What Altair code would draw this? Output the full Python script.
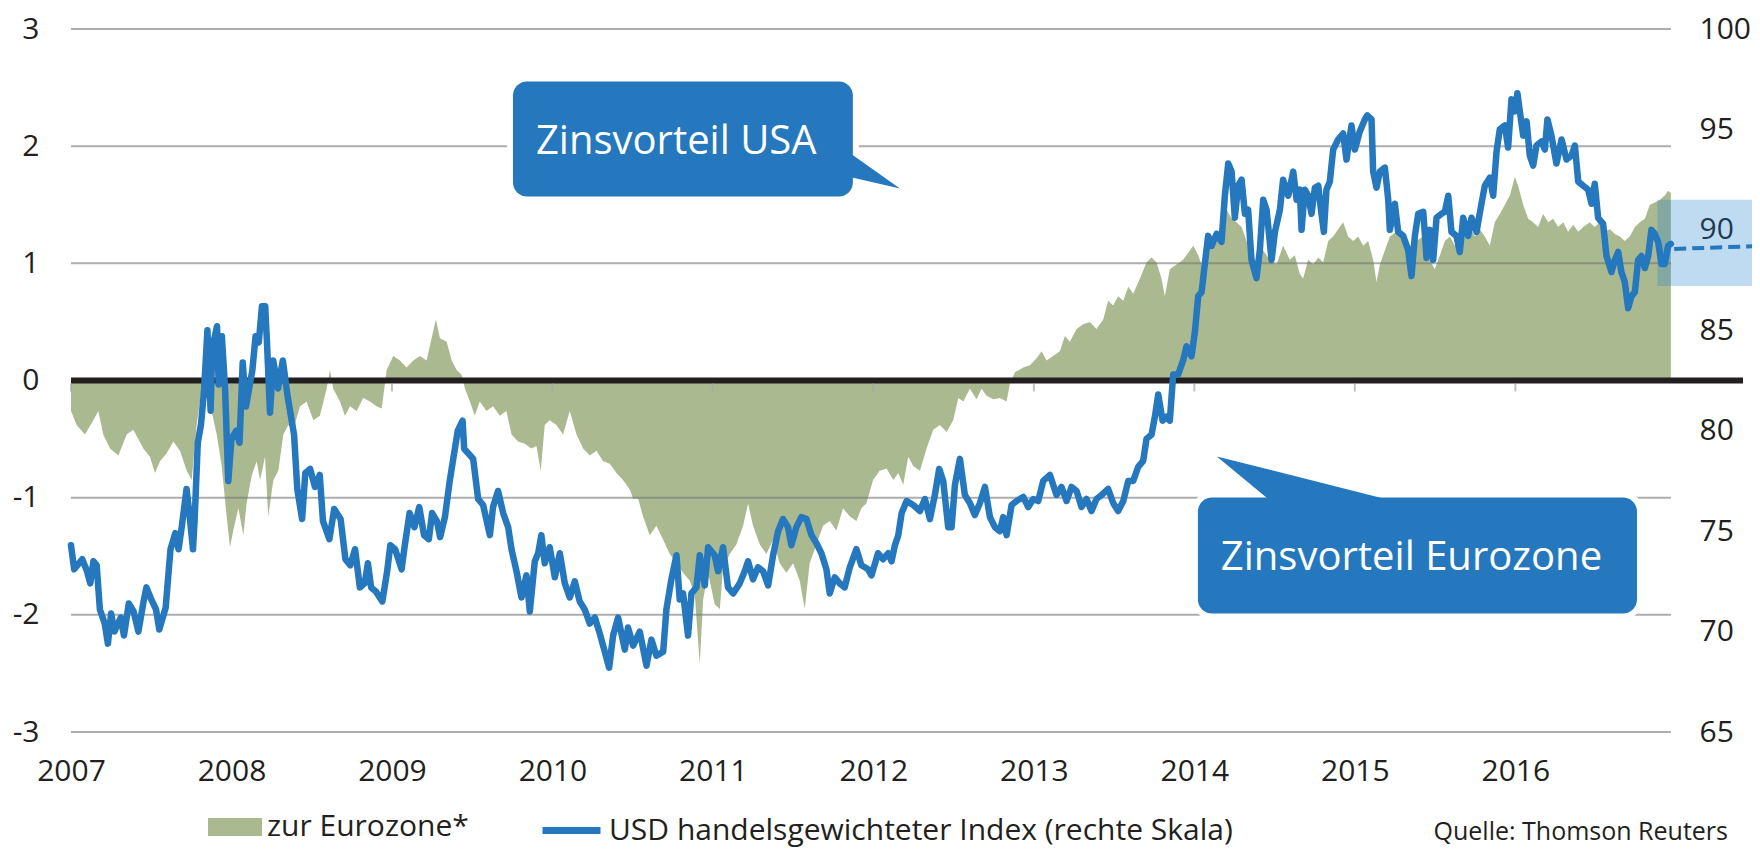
import altair as alt
import pandas as pd

FONT = "Open Sans"
TXT = "#231f20"
GREEN = "#aab98f"
BLUE = "#2577be"

years = list(range(2007, 2017))
left_ticks = [-3, -2, -1, 0, 1, 2, 3]
right_ticks = [65, 70, 75, 80, 85, 90, 95, 100]
grid_vals = [-3, -2, -1, 1, 2, 3]

# Zinsdifferenz USA - Eurozone (linke Skala)
green_t = [
    2007.000, 2007.035, 2007.087, 2007.139, 2007.170, 2007.201, 2007.243, 2007.295, 2007.347, 2007.388,
    2007.451, 2007.492, 2007.523, 2007.555, 2007.596, 2007.638, 2007.679, 2007.721, 2007.752, 2007.783,
    2007.814, 2007.845, 2007.876, 2007.908, 2007.939, 2007.970, 2007.991,
    2008.011, 2008.043, 2008.074, 2008.094, 2008.126, 2008.157, 2008.178, 2008.209, 2008.229, 2008.261,
    2008.292, 2008.323, 2008.354, 2008.385, 2008.427, 2008.468, 2008.510, 2008.551, 2008.593, 2008.614,
    2008.634, 2008.676, 2008.707, 2008.738, 2008.780, 2008.821, 2008.863, 2008.904, 2008.936, 2008.967,
    2009.008, 2009.050, 2009.091, 2009.133, 2009.174, 2009.216, 2009.247, 2009.274, 2009.299, 2009.341,
    2009.372, 2009.403, 2009.434, 2009.455, 2009.486, 2009.516, 2009.547, 2009.589, 2009.630, 2009.672,
    2009.713, 2009.745, 2009.786, 2009.828, 2009.869, 2009.900, 2009.927, 2009.952, 2009.983,
    2010.025, 2010.066, 2010.108, 2010.150, 2010.191, 2010.233, 2010.274, 2010.316, 2010.357, 2010.399,
    2010.440, 2010.482, 2010.503, 2010.534, 2010.565, 2010.606, 2010.648, 2010.690, 2010.731, 2010.773,
    2010.814, 2010.856, 2010.887, 2010.918, 2010.939, 2010.970,
    2011.011, 2011.043, 2011.063, 2011.105, 2011.146, 2011.188, 2011.219, 2011.250, 2011.292, 2011.333,
    2011.375, 2011.416, 2011.458, 2011.500, 2011.541, 2011.572, 2011.603, 2011.645, 2011.686, 2011.728,
    2011.769, 2011.811, 2011.853, 2011.894, 2011.925, 2011.956, 2011.998,
    2012.039, 2012.082, 2012.124, 2012.155, 2012.186, 2012.217, 2012.248, 2012.290, 2012.331, 2012.373,
    2012.414, 2012.456, 2012.497, 2012.529, 2012.560, 2012.601, 2012.643, 2012.674, 2012.705, 2012.747,
    2012.788, 2012.830, 2012.850, 2012.882, 2012.934, 2012.975,
    2013.017, 2013.048, 2013.079, 2013.120, 2013.162, 2013.193, 2013.224, 2013.266, 2013.307, 2013.349,
    2013.390, 2013.432, 2013.463, 2013.494, 2013.525, 2013.557, 2013.588, 2013.619, 2013.661, 2013.702,
    2013.733, 2013.764, 2013.795, 2013.816, 2013.847, 2013.889, 2013.930, 2013.962, 2013.993,
    2014.024, 2014.055, 2014.086, 2014.117, 2014.159, 2014.200, 2014.232, 2014.263, 2014.294, 2014.325,
    2014.356, 2014.387, 2014.429, 2014.470, 2014.512, 2014.553, 2014.595, 2014.626, 2014.657, 2014.678,
    2014.709, 2014.740, 2014.772, 2014.803, 2014.834, 2014.865, 2014.896, 2014.927, 2014.958, 2014.990,
    2015.021, 2015.052, 2015.083, 2015.114, 2015.135, 2015.156, 2015.187, 2015.218, 2015.260, 2015.301,
    2015.343, 2015.384, 2015.426, 2015.467, 2015.498, 2015.530, 2015.561, 2015.592, 2015.623, 2015.654,
    2015.685, 2015.717, 2015.748, 2015.779, 2015.810, 2015.841, 2015.872, 2015.903, 2015.935, 2015.966,
    2015.997,
    2016.018, 2016.049, 2016.080, 2016.111, 2016.142, 2016.173, 2016.205, 2016.236, 2016.267, 2016.298,
    2016.329, 2016.360, 2016.392, 2016.423, 2016.464, 2016.495, 2016.526, 2016.558, 2016.589, 2016.620,
    2016.651, 2016.682, 2016.713, 2016.745, 2016.776, 2016.807, 2016.838, 2016.869, 2016.900, 2016.931,
    2016.952, 2016.969,
]
green_v = [
    -0.26, -0.38, -0.46, -0.34, -0.26, -0.46, -0.58, -0.64, -0.46, -0.42,
    -0.58, -0.65, -0.79, -0.69, -0.62, -0.52, -0.60, -0.77, -0.85, -0.38,
    -0.07, -0.15, -0.26, -0.46, -0.73, -1.16, -1.42,
    -1.28, -1.09, -1.32, -1.05, -0.81, -0.69, -0.85, -0.65, -1.16, -0.85,
    -0.77, -0.46, -0.38, -0.42, -0.22, -0.18, -0.34, -0.30, -0.07, 0.09,
    -0.07, -0.18, -0.30, -0.22, -0.26, -0.15, -0.18, -0.22, -0.24, 0.09,
    0.21, 0.17, 0.11, 0.17, 0.21, 0.17, 0.36, 0.52, 0.36, 0.33,
    0.17, 0.09, 0.05, -0.07, -0.18, -0.30, -0.18, -0.26, -0.22, -0.30,
    -0.26, -0.46, -0.52, -0.54, -0.58, -0.56, -0.77, -0.38, -0.34,
    -0.38, -0.46, -0.26, -0.46, -0.58, -0.64, -0.60, -0.69, -0.71, -0.79,
    -0.85, -0.93, -1.01, -1.01, -1.16, -1.32, -1.24, -1.36, -1.48, -1.56,
    -1.64, -1.71, -1.83, -2.42, -1.87, -1.64,
    -1.91, -1.95, -1.60, -1.48, -1.40, -1.24, -1.05, -1.24, -1.40, -1.48,
    -1.36, -1.56, -1.64, -1.56, -1.71, -1.95, -1.56, -1.40, -1.24, -1.20,
    -1.28, -1.09, -1.16, -1.20, -1.09, -1.05, -0.85,
    -0.77, -0.75, -0.85, -0.79, -0.89, -0.65, -0.73, -0.77, -0.58, -0.42,
    -0.38, -0.44, -0.34, -0.15, -0.18, -0.07, -0.16, -0.07, -0.13, -0.16,
    -0.15, -0.18, -0.03, 0.07, 0.11, 0.13,
    0.19, 0.25, 0.17, 0.21, 0.25, 0.38, 0.33, 0.44, 0.48, 0.50,
    0.44, 0.52, 0.68, 0.64, 0.72, 0.68, 0.80, 0.74, 0.87, 1.01,
    1.05, 1.01, 0.87, 0.72, 0.95, 0.99, 1.03, 1.09, 1.15,
    1.07, 0.95, 1.19, 1.23, 1.19, 1.46, 1.38, 1.35, 1.31, 1.19,
    1.11, 0.99, 1.11, 1.03, 0.99, 1.15, 1.03, 1.07, 0.91, 0.87,
    1.03, 0.99, 1.05, 1.01, 1.19, 1.23, 1.29, 1.35, 1.23, 1.19,
    1.23, 1.15, 1.19, 1.03, 0.84, 0.99, 1.11, 1.23, 1.27, 1.19,
    1.15, 1.19, 1.23, 1.03, 0.95, 1.07, 1.19, 1.23, 1.15, 1.23,
    1.27, 1.31, 1.23, 1.29, 1.23, 1.15, 1.35, 1.42, 1.50, 1.58,
    1.74,
    1.66, 1.50, 1.38, 1.35, 1.31, 1.42, 1.35, 1.38, 1.31, 1.35,
    1.27, 1.33, 1.27, 1.31, 1.35, 1.31, 1.35, 1.27, 1.29, 1.25,
    1.23, 1.19, 1.23, 1.31, 1.35, 1.38, 1.50, 1.52, 1.54, 1.58,
    1.62, 1.60,
]

# USD handelsgewichteter Index (rechte Skala)
blue_t = [
    2007.00, 2007.02, 2007.07, 2007.10, 2007.12, 2007.14, 2007.16, 2007.18, 2007.21, 2007.23,
    2007.25, 2007.27, 2007.31, 2007.33, 2007.36, 2007.39, 2007.42, 2007.45, 2007.47, 2007.50,
    2007.53, 2007.55, 2007.59, 2007.62, 2007.65, 2007.67, 2007.69, 2007.72, 2007.74, 2007.76,
    2007.77, 2007.79, 2007.81, 2007.83, 2007.85, 2007.87, 2007.88, 2007.91, 2007.92, 2007.94,
    2007.96, 2007.98,
    2008.00, 2008.03, 2008.05, 2008.07, 2008.09, 2008.13, 2008.15, 2008.17, 2008.19, 2008.21,
    2008.22, 2008.24, 2008.26, 2008.29, 2008.32, 2008.35, 2008.39, 2008.41, 2008.44, 2008.46,
    2008.49, 2008.52, 2008.55, 2008.57, 2008.61, 2008.64, 2008.68, 2008.71, 2008.74, 2008.77,
    2008.80, 2008.83, 2008.85, 2008.87, 2008.90, 2008.94, 2008.97, 2008.99,
    2009.02, 2009.06, 2009.08, 2009.11, 2009.14, 2009.17, 2009.20, 2009.23, 2009.25, 2009.28,
    2009.30, 2009.33, 2009.36, 2009.38, 2009.41, 2009.44, 2009.45, 2009.506, 2009.537, 2009.568,
    2009.610, 2009.630, 2009.661, 2009.693, 2009.724, 2009.745, 2009.776, 2009.807, 2009.838, 2009.859,
    2009.890, 2009.911, 2009.931, 2009.952, 2009.983,
    2010.015, 2010.046, 2010.077, 2010.108, 2010.139, 2010.170, 2010.201, 2010.233, 2010.264, 2010.295,
    2010.326, 2010.353, 2010.378, 2010.409, 2010.451, 2010.471, 2010.503, 2010.544, 2010.586, 2010.617,
    2010.648, 2010.690, 2010.710, 2010.741, 2010.773, 2010.793, 2010.814, 2010.845, 2010.866, 2010.897,
    2010.918, 2010.949, 2010.970,
    2011.011, 2011.032, 2011.063, 2011.094, 2011.126, 2011.167, 2011.198, 2011.219, 2011.250, 2011.281,
    2011.313, 2011.344, 2011.375, 2011.406, 2011.437, 2011.468, 2011.489, 2011.520, 2011.551, 2011.583,
    2011.614, 2011.645, 2011.676, 2011.707, 2011.728, 2011.759, 2011.790, 2011.821, 2011.853, 2011.894,
    2011.925, 2011.967, 2011.988,
    2012.029, 2012.060, 2012.092, 2012.113, 2012.134, 2012.155, 2012.176, 2012.207, 2012.248, 2012.290,
    2012.321, 2012.352, 2012.383, 2012.410, 2012.435, 2012.466, 2012.487, 2012.508, 2012.539, 2012.570,
    2012.601, 2012.632, 2012.664, 2012.695, 2012.726, 2012.757, 2012.788, 2012.809, 2012.830, 2012.861,
    2012.892, 2012.934, 2012.965, 2012.996,
    2013.027, 2013.058, 2013.100, 2013.141, 2013.172, 2013.204, 2013.235, 2013.266, 2013.297, 2013.328,
    2013.359, 2013.390, 2013.422, 2013.463, 2013.494, 2013.525, 2013.557, 2013.588, 2013.619, 2013.650,
    2013.681, 2013.702, 2013.733, 2013.754, 2013.775, 2013.802, 2013.827, 2013.847, 2013.868, 2013.899,
    2013.930, 2013.951, 2013.982,
    2014.003, 2014.024, 2014.045, 2014.065, 2014.086, 2014.107, 2014.138, 2014.169, 2014.190, 2014.211,
    2014.232, 2014.252, 2014.273, 2014.294, 2014.315, 2014.335, 2014.356, 2014.387, 2014.408, 2014.429,
    2014.450, 2014.481, 2014.502, 2014.533, 2014.553, 2014.585, 2014.616, 2014.637, 2014.657, 2014.668,
    2014.688, 2014.709, 2014.730, 2014.751, 2014.772, 2014.792, 2014.807, 2014.823, 2014.844, 2014.865,
    2014.896, 2014.927, 2014.948, 2014.979,
    2015.000, 2015.031, 2015.062, 2015.077, 2015.104, 2015.114, 2015.135, 2015.156, 2015.187, 2015.208,
    2015.218, 2015.249, 2015.270, 2015.301, 2015.332, 2015.353, 2015.374, 2015.395, 2015.426, 2015.447,
    2015.467, 2015.488, 2015.509, 2015.540, 2015.561, 2015.582, 2015.602, 2015.633, 2015.654, 2015.675,
    2015.706, 2015.727, 2015.758, 2015.789, 2015.810, 2015.841, 2015.862, 2015.883, 2015.903, 2015.935,
    2015.955, 2015.976, 2015.997,
    2016.013, 2016.028, 2016.049, 2016.070, 2016.090, 2016.111, 2016.132, 2016.163, 2016.184, 2016.200,
    2016.225, 2016.256, 2016.288, 2016.319, 2016.350, 2016.371, 2016.392, 2016.423, 2016.454, 2016.475,
    2016.495, 2016.516, 2016.547, 2016.568, 2016.599, 2016.620, 2016.641, 2016.661, 2016.682, 2016.703,
    2016.724, 2016.745, 2016.765, 2016.786, 2016.807, 2016.828, 2016.848, 2016.869, 2016.890, 2016.911,
    2016.931, 2016.952, 2016.969,
]
blue_v = [
    74.3, 73.1, 73.6, 73.0, 72.4, 73.5, 73.3, 71.1, 70.4, 69.4,
    70.9, 70.0, 70.7, 69.8, 71.4, 71.0, 70.0, 71.4, 72.2, 71.6,
    71.1, 70.1, 71.2, 74.1, 74.9, 74.1, 75.2, 77.1, 75.7, 74.1,
    75.5, 79.4, 80.3, 82.1, 85.0, 81.0, 84.1, 85.2, 82.3, 84.7,
    82.1, 77.5,
    79.6, 80.0, 79.4, 83.4, 81.2, 83.0, 84.7, 84.4, 86.2, 86.2,
    84.6, 80.9, 83.5, 82.1, 83.5, 81.7, 79.8, 77.1, 75.6, 77.9,
    78.1, 77.2, 77.8, 75.5, 74.6, 76.1, 75.6, 73.6, 73.3, 74.1,
    72.2, 72.4, 73.4, 72.2, 72.0, 71.5, 73.0, 74.3,
    74.1, 73.1, 74.3, 75.9, 75.2, 76.2, 74.8, 74.6, 75.9, 75.5,
    74.7, 75.7, 77.5, 78.5, 80.0, 80.5, 79.1, 78.6, 76.6, 76.3,
    74.8, 76.2, 77.0, 75.9, 75.2, 74.1, 73.0, 71.7, 72.8, 71.0,
    73.5, 73.9, 74.8, 73.4, 74.2,
    72.7, 73.9, 72.4, 71.7, 72.5, 71.5, 71.1, 70.4, 70.7, 69.9,
    69.0, 68.2, 69.8, 70.7, 69.1, 70.2, 69.3, 70.0, 68.3, 69.6,
    68.8, 69.0, 71.1, 72.6, 73.8, 71.6, 71.9, 69.8, 71.9, 72.2,
    73.8, 72.3, 74.2,
    73.8, 73.0, 74.2, 72.2, 71.9, 72.4, 73.0, 73.5, 72.6, 73.2,
    73.0, 72.3, 73.8, 75.0, 75.6, 75.2, 74.3, 75.2, 75.7, 75.6,
    74.8, 74.4, 73.9, 73.1, 71.9, 72.7, 72.4, 72.2, 73.2, 74.1,
    73.3, 73.1, 72.8,
    73.9, 73.6, 73.9, 73.5, 74.3, 74.8, 75.9, 76.5, 76.3, 76.0,
    76.6, 75.6, 76.8, 78.1, 77.5, 75.2, 75.2, 77.3, 78.6, 76.8,
    76.4, 75.8, 76.4, 77.2, 75.7, 75.2, 75.0, 75.7, 74.8, 76.3,
    76.5, 76.7, 76.2, 76.6,
    76.5, 77.5, 77.8, 76.8, 77.2, 76.5, 77.2, 77.0, 76.2, 76.6,
    76.0, 76.6, 76.8, 77.1, 76.4, 76.0, 76.5, 77.5, 77.5, 78.2,
    78.5, 79.6, 79.8, 80.7, 81.8, 80.5, 80.7, 80.5, 82.8, 82.8,
    83.5, 84.2, 83.7,
    84.9, 86.7, 86.9, 88.3, 89.7, 89.2, 89.8, 89.4, 91.7, 93.3,
    92.9, 90.6, 92.2, 92.5, 90.8, 91.0, 88.5, 87.6, 89.0, 91.5,
    91.0, 88.5, 89.9, 91.0, 92.5, 91.7, 92.9, 91.5, 92.0, 90.0,
    92.0, 91.7, 90.8, 92.1, 92.2, 90.8, 89.9, 92.0, 92.4, 94.0,
    94.5, 94.8, 93.5, 95.2,
    94.0, 94.9, 95.5, 95.7, 95.5, 92.9, 92.1, 92.9, 93.1, 91.5,
    90.0, 91.3, 89.9, 89.7, 89.0, 87.7, 89.7, 90.8, 90.9, 88.6,
    90.0, 88.5, 90.6, 90.8, 90.9, 91.7, 89.9, 89.7, 88.9, 90.6,
    89.7, 90.6, 89.9, 91.3, 92.2, 92.6, 91.7, 93.9, 95.0, 95.2,
    94.1, 96.5, 95.9,
    96.8, 95.9, 94.7, 95.4, 93.7, 93.2, 94.2, 94.4, 94.0, 95.5,
    94.7, 93.3, 94.5, 93.5, 93.7, 94.2, 92.4, 92.2, 92.0, 91.3,
    92.3, 90.6, 90.3, 88.7, 87.9, 88.5, 88.9, 87.9, 87.4, 86.1,
    86.7, 86.9, 88.5, 88.7, 88.1, 88.7, 90.0, 89.8, 89.4, 88.3,
    88.3, 89.2, 89.3,
]

# Prognose (gestrichelt) und Prognoseband
fc_t = [2016.99, 2017.53]
fc_v = [89.05, 89.2]
band_t, band_t2 = [2016.885], [2017.53]
band_lo, band_hi = [87.2], [91.5]

# Sprechblasen
callout_text = ["Zinsvorteil USA", "Zinsvorteil Eurozone"]
box_t, box_t2 = [2009.754, 2014.022], [2011.872, 2016.758]
box_top, box_bottom = [2.551, -0.998], [1.570, -1.988]
label_t, label_v = [2009.897, 2014.165], [1.937, -1.621]
tail_id = ["usa", "usa", "eu", "eu", "eu"]
tail_t = [2011.84, 2012.165, 2014.14, 2014.477, 2015.16]
tail_top = [1.954, 1.638, -0.648, -0.764, -1.0]
tail_bottom = [1.741, 1.638, -0.648, -1.03, -1.03]

series_area = "zur Eurozone*"
series_line = "USD handelsgewichteter Index (rechte Skala)"
source = "Quelle: Thomson Reuters"

W, H = 1600, 703

gdf = pd.DataFrame({"t": green_t, "v": green_v, "z": 0.0, "s": series_area})
bdf = pd.DataFrame({"t": blue_t, "r": blue_v, "s": series_line})
fcdf = pd.DataFrame({"t": fc_t, "r": fc_v})
banddf = pd.DataFrame({"t": band_t, "t2": band_t2, "r": band_lo, "r2": band_hi})
boxdf = pd.DataFrame({"t": box_t, "t2": box_t2, "v": box_top, "v2": box_bottom})
labdf = pd.DataFrame({"t": label_t, "v": label_v, "label": callout_text})
taildf = pd.DataFrame({"id": tail_id, "t": tail_t, "v": tail_top, "v2": tail_bottom})
griddf = pd.DataFrame({"v": grid_vals})
zerodf = pd.DataFrame({"v": [0]})
tickdf = pd.DataFrame({"t": years, "v": [0] * len(years)})
srcdf = pd.DataFrame({"q": [source]})

X = alt.X(
    "t:Q",
    scale=alt.Scale(domain=[2007, 2016.97], nice=False, zero=False),
    axis=alt.Axis(
        values=years, format="d", labelFlush=False, labelOverlap=False,
        domain=False, ticks=False, grid=False, title=None,
        labelFont=FONT, labelFontSize=30, labelColor=TXT, labelPadding=24,
    ),
)
YL = alt.Y(
    "v:Q",
    scale=alt.Scale(domain=[-3, 3], nice=False, zero=False),
    axis=alt.Axis(
        values=left_ticks, orient="left", labelExpr="'' + datum.value",
        domain=False, ticks=False, grid=False, title=None,
        labelFont=FONT, labelFontSize=30, labelColor=TXT, labelPadding=32,
    ),
)
YR = alt.Y(
    "r:Q",
    scale=alt.Scale(domain=[65, 100], nice=False, zero=False),
    axis=alt.Axis(
        values=right_ticks, orient="right", labelExpr="'' + datum.value",
        domain=False, ticks=False, grid=False, title=None, labelAlign="left",
        labelFont=FONT, labelFontSize=30, labelColor=TXT, labelPadding=28,
    ),
)

area = alt.Chart(gdf).mark_area(opacity=1).encode(
    x=X, y=YL, y2=alt.Y2("z:Q"),
    fill=alt.Fill(
        "s:N",
        scale=alt.Scale(domain=[series_area], range=[GREEN]),
        legend=alt.Legend(
            orient="none", legendX=137, legendY=771, direction="horizontal",
            title=None, padding=0,
            symbolType="M-1,-0.333L1,-0.333L1,0.333L-1,0.333Z",
            symbolSize=2916, symbolStrokeWidth=0, symbolOpacity=1,
            labelFont=FONT, labelFontSize=30, labelColor=TXT,
            labelOffset=5, labelLimit=1000,
        ),
    ),
)

grid = alt.Chart(griddf).mark_rule(color="#777777", opacity=0.6, strokeWidth=2).encode(
    y=YL, x=alt.value(0), x2=alt.value(W)
)
zero = alt.Chart(zerodf).mark_rule(color=TXT, strokeWidth=6).encode(
    y=YL, x=alt.value(0), x2=alt.value(1672)
)
ticks = alt.Chart(tickdf).mark_tick(
    color="#a6a6a6", thickness=2, size=8, yOffset=7, orient="vertical"
).encode(x=X, y=YL)

box_outline = alt.Chart(boxdf).mark_rect(
    fill=BLUE, stroke="white", strokeWidth=12, cornerRadius=14
).encode(x=X, x2="t2:Q", y=YL, y2="v2:Q")
tails = alt.Chart(taildf).mark_area(color=BLUE, opacity=1).encode(
    x=X, y=YL, y2="v2:Q", detail="id:N"
)
box_fill = alt.Chart(boxdf).mark_rect(fill=BLUE, cornerRadius=14).encode(
    x=X, x2="t2:Q", y=YL, y2="v2:Q"
)
labels = alt.Chart(labdf).mark_text(
    color="white", font=FONT, fontSize=40, align="left", baseline="alphabetic"
).encode(x=X, y=YL, text="label:N")

src = alt.Chart(srcdf).mark_text(
    color=TXT, font=FONT, fontSize=25, align="right", baseline="alphabetic"
).encode(text="q:N", x=alt.value(1657), y=alt.value(811))

line = alt.Chart(bdf).mark_line(strokeWidth=6.5, strokeJoin="round", strokeCap="round").encode(
    x=X, y=YR,
    stroke=alt.Stroke(
        "s:N",
        scale=alt.Scale(domain=[series_line], range=[BLUE]),
        legend=alt.Legend(
            orient="none", legendX=468, legendY=769, direction="horizontal",
            title=None, padding=0, symbolType="stroke", symbolSize=3364,
            symbolStrokeWidth=7,
            labelFont=FONT, labelFontSize=30, labelColor=TXT,
            labelOffset=5, labelLimit=1000,
        ),
    ),
)
band = alt.Chart(banddf).mark_rect(color="#1a7fd0", opacity=0.28).encode(
    x=X, x2="t2:Q", y=YR, y2="r2:Q"
)
forecast = alt.Chart(fcdf).mark_line(color=BLUE, strokeWidth=4, strokeDash=[12, 6]).encode(
    x=X, y=YR
)

left = alt.layer(area, grid, zero, ticks, box_outline, tails, box_fill, labels, src)
right = alt.layer(line, band, forecast)

chart = (
    alt.layer(left, right)
    .resolve_scale(y="independent")
    .properties(
        width=W, height=H,
        padding={"left": 63, "top": 21, "right": 81, "bottom": 116},
        autosize=alt.AutoSizeParams(type="none"),
        background="white",
    )
    .configure_view(stroke=None)
)

chart.save("out.html", embed_options={"renderer": "svg", "actions": False})
